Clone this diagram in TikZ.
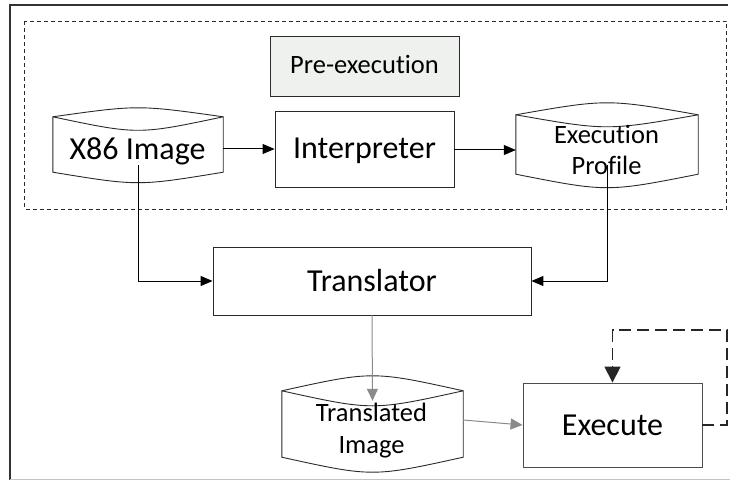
\documentclass[tikz,border=0pt]{standalone}
\usepackage{fontspec}
\setmainfont{Carlito}[Ligatures=NoCommon]
\usetikzlibrary{arrows.meta,calc}

\definecolor{boxline}{HTML}{2A2A2A}
\definecolor{preexfill}{HTML}{EEF1EE}
\definecolor{softline}{HTML}{8A8B8E}
\definecolor{framebottom}{HTML}{C4C4C4}

\tikzset{
  big/.style={font=\fontsize{32}{38}\selectfont},
  small/.style={font=\fontsize{26.5}{31.5}\selectfont, align=center},
  procbox/.style={draw=boxline, line width=0.9pt, rectangle, inner sep=0pt, big,
    text height=20pt, text depth=0pt},
  drum/.style={draw=none, rectangle, inner sep=0pt},
  drumtext/.style={inner sep=0pt, anchor=base},
  flow/.style={line width=1pt, draw=black, -{Triangle[length=12pt,width=10pt]}},
  softflow/.style={line width=1pt, draw=softline, -{Triangle[length=12pt,width=11pt]}, color=softline},
  loopflow/.style={line width=1.6pt, draw=black!85, dash pattern=on 12pt off 6pt,
    -{Triangle[length=16pt,width=16pt]}},
}

% storage drum: lens-shaped top, bowed bottom, drawn around a node body
\newcommand\drawdrum[4]{% node, upper rise, lens dip, bottom bow
  \draw[boxline, line width=0.9pt]
    (#1.north west) .. controls ($(#1.north)+(0,-#2)$) .. (#1.north east)
    -- (#1.south east) .. controls ($(#1.south)+(0,#4)$) .. (#1.south west) -- cycle;
  \draw[boxline, line width=0.9pt]
    (#1.north west) .. controls ($(#1.north)+(0,#3)$) .. (#1.north east);
}

\begin{document}
\begin{tikzpicture}[x=1pt, y=-1pt]
  \useasboundingbox (0,0) rectangle (730,481);

  % outer frame
  \draw[line width=2pt, black!80] (9.5,480) -- (9.5,5.5) -- (728,5.5);
  \draw[line width=1.2pt, framebottom] (9.5,479.5) -- (730,479.5);

  % pre-execution region
  \draw[line width=0.8pt, boxline, dash pattern=on 4pt off 3pt] (24.5,21) rectangle (726.5,209);

  \node[draw=boxline, line width=0.9pt, fill=preexfill, minimum width=189pt, minimum height=60pt,
        inner sep=0pt, font=\fontsize{26.5}{31.5}\selectfont, text height=16pt, text depth=0pt]
        (pre) at (364.5,66) {Pre-execution};

  % data stores
  \node[drum, minimum width=170pt, minimum height=55pt] (x86) at (138,144.5) {};
  \drawdrum{x86}{12}{18}{14}
  \node[drumtext, big] (x86t) at (137.5,160) {X86 Image};

  \node[drum, minimum width=182pt, minimum height=59pt] (prof) at (607,144.5) {};
  \drawdrum{prof}{16}{16}{18}
  \node[drumtext, small] (proft) at (606.5,175) {Execution\\Profile};

  \node[drum, minimum width=181pt, minimum height=66pt] (timg) at (372.5,424) {};
  \drawdrum{timg}{20}{20}{20}
  \node[drumtext, small] (timgt) at (371.5,453) {Translated\\Image};

  % processing steps
  \node[procbox, minimum width=179pt, minimum height=76pt] (interp) at (364.5,149) {Interpreter};
  \node[procbox, minimum width=318pt, minimum height=68pt] (trans) at (372,281) {Translator};
  \node[procbox, draw=black!70, minimum width=179pt, minimum height=84pt] (exec) at (612.5,425) {Execute};

  % connectors
  \draw[flow] (x86.east |- interp.west) -- (interp.west);
  \draw[flow] ([yshift=-1pt]interp.east) -- ([yshift=-1pt]interp.east -| prof.west);
  \draw[flow] ([yshift=7pt]x86.south) |- (trans.west);
  \draw[flow] ([yshift=9pt]prof.south) |- (trans.east);
  \draw[softflow] (trans.south) -- ([yshift=-10pt]timg.north);
  \draw[softflow] ([yshift=4pt]timg.east) -- (exec.west);

  % feedback loop
  \coordinate (loopR) at (727,330);
  \draw[loopflow] (exec.east) -- (exec.east -| loopR) -- (loopR) -| (exec.north);
\end{tikzpicture}
\end{document}
